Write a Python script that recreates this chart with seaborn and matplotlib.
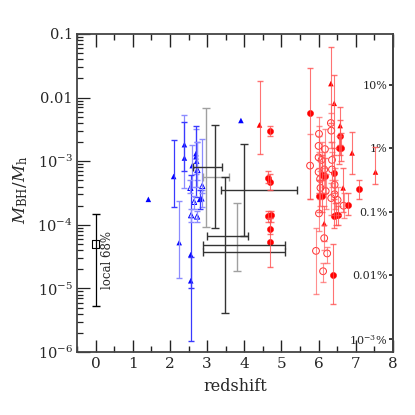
import numpy as np
import matplotlib
matplotlib.use("Agg")
import matplotlib.pyplot as plt
import matplotlib.ticker as mticker
import seaborn as sns

# values; ratios kept as log10(M_BH/M_h)
local_z = [0.0]
local_logr = [-4.30]
local_lo = [-5.28]
local_hi = [-3.83]

# blue triangles, filled
blue_z = [1.42, 2.10, 2.39, 2.39, 2.25, 2.56, 2.56, 2.60, 2.70, 2.70, 2.72, 2.80, 2.86, 3.91]
blue_logr = [-3.60, -3.24, -2.74, -2.95, -4.28, -4.47, -4.88, -3.07, -2.88, -2.93, -3.00, -3.60, -3.59, -2.36]
blue_lo = [np.nan, -3.72, -3.42, -3.15, -4.84, -5.00, -5.83, -3.40, -3.20, -3.56, -3.30, -3.75, -3.72, np.nan]
blue_hi = [np.nan, -2.67, -2.28, -2.38, -3.62, -3.22, -4.50, -2.75, -2.50, -2.44, -2.70, -3.45, -3.45, np.nan]
blue_light = [False, False, True, False, True, False, False, True, True, False, True, False, True, False]

# blue triangles, open
blue_open_z = [2.55, 2.65, 2.57, 2.73, 2.87, 2.74]
blue_open_logr = [-3.42, -3.64, -3.85, -3.87, -3.39, -3.14]
blue_open_lo = [-3.50, -3.75, -3.95, -3.95, -3.50, -3.40]
blue_open_hi = [-3.30, -3.55, -3.75, -3.78, -2.65, -2.70]

# black / grey points with redshift ranges
blk_z = [3.20, 2.98, 3.49, 4.00, 3.80, 4.00, 4.00]
blk_logr = [-3.09, -3.25, -3.45, -4.18, -4.20, -4.32, -4.43]
blk_zlo = [2.63, 2.90, 3.37, 2.99, np.nan, 2.90, 2.90]
blk_zhi = [3.40, 3.59, 5.41, 4.10, np.nan, 5.10, 5.10]
blk_lo = [-4.05, -4.03, -5.39, -4.18, -4.72, np.nan, np.nan]
blk_hi = [-2.43, -2.16, -3.25, -2.73, -3.65, np.nan, np.nan]
blk_grey = [False, True, False, False, True, False, False]

# red triangles
red_tri_z = [4.41, 6.33, 6.42, 6.58, 6.90, 7.53, 6.66, 6.15]
red_tri_logr = [-2.43, -1.78, -2.09, -2.44, -2.87, -3.17, -3.42, -3.98]
red_tri_lo = [-2.88, -2.40, -2.90, -2.75, -3.20, -3.36, -3.80, -4.25]
red_tri_hi = [-1.74, -1.20, -1.65, -2.15, -2.54, -2.78, -3.10, -3.70]

# red filled circles
red_z = [4.70, 4.65, 4.68, 4.65, 4.73, 4.68, 4.69, 5.78, 6.09, 6.17, 6.42, 6.01, 6.09,
         6.58, 6.60, 6.55, 6.42, 6.48, 6.52, 6.79, 7.09, 6.39]
red_logr = [-2.53, -3.26, -3.33, -3.86, -3.84, -4.07, -4.27, -2.25, -3.21, -3.23, -3.19, -3.54, -3.55,
            -2.61, -2.79, -2.80, -3.86, -3.85, -3.84, -3.69, -3.44, -4.79]
red_lo = [-2.60, -3.35, -3.45, -3.95, -3.95, -4.15, -4.67, -3.59, -3.50, -3.50, -3.50, -3.80, -3.80,
          -2.90, -3.00, -3.05, -4.05, -4.00, -4.00, -3.85, -3.60, -5.25]
red_hi = [-2.45, -3.15, -3.20, -3.78, -3.78, -3.90, -3.90, -1.54, -2.90, -2.95, -2.80, -3.30, -3.30,
          -2.35, -2.55, -2.60, -3.60, -3.65, -3.70, -3.50, -3.30, -4.30]

# red open circles
red_open_z = [5.77, 6.33, 6.34, 6.01, 6.00, 6.17, 6.00, 6.08, 6.36, 6.00, 6.15, 6.36, 6.04,
              6.43, 6.05, 6.19, 6.43, 6.34, 6.01, 6.67, 6.51, 5.93, 6.15, 6.12, 6.23]
red_open_logr = [-3.07, -2.40, -2.52, -2.57, -2.76, -2.81, -2.94, -2.98, -2.98, -3.17, -3.13, -3.13, -3.28,
                 -3.37, -3.42, -3.47, -3.52, -3.58, -3.82, -3.70, -3.61, -4.41, -4.21, -4.73, -4.45]
red_open_lo = [-3.59, -2.70, -2.80, -2.85, -3.10, -3.10, -3.30, -3.30, -3.30, -3.50, -3.40, -3.40, -3.60,
               -3.65, -3.70, -3.75, -3.75, -3.85, -4.10, -3.90, -3.85, -5.09, -4.40, -4.90, -4.60]
red_open_hi = [-2.57, -2.10, -2.25, -2.30, -2.45, -2.50, -2.60, -2.70, -2.70, -2.90, -2.85, -2.85, -3.00,
               -3.10, -3.15, -3.20, -3.30, -3.35, -3.50, -3.50, -3.40, -4.05, -4.00, -4.60, -4.35]

pct_ticks = [10, 1, 0.1, 0.01, 0.001]
pct_labels = ["10%", "1%", "0.1%", "0.01%", r"$10^{-3}$%"]
fb = 0.16  # baryon fraction used for the % axis

sns.set_theme(style="ticks")
plt.rcParams['font.family'] = ['DejaVu Serif']
plt.rcParams['mathtext.fontset'] = 'dejavuserif'


def vbars(ax, z, logr, lo, hi, color, **kw):
    # vertical bars between log10 bounds; skip points with no bar
    z = np.asarray(z, dtype=float)
    r = 10 ** np.asarray(logr, dtype=float)
    lo = np.asarray(lo, dtype=float)
    hi = np.asarray(hi, dtype=float)
    ok = ~np.isnan(lo) & ~np.isnan(hi)
    if not ok.any():
        return
    down = r[ok] - 10 ** lo[ok]
    up = 10 ** hi[ok] - r[ok]
    ax.errorbar(z[ok], r[ok], yerr=np.vstack([down, up]), fmt='none', ecolor=color, **kw)


def hbars(ax, z, logr, zlo, zhi, color, **kw):
    z = np.asarray(z, dtype=float)
    r = 10 ** np.asarray(logr, dtype=float)
    zlo = np.asarray(zlo, dtype=float)
    zhi = np.asarray(zhi, dtype=float)
    ok = ~np.isnan(zlo) & ~np.isnan(zhi)
    if not ok.any():
        return
    ax.errorbar(z[ok], r[ok], xerr=np.vstack([z[ok] - zlo[ok], zhi[ok] - z[ok]]),
                fmt='none', ecolor=color, **kw)


fig = plt.figure(figsize=(4.15, 4.15), dpi=100)
ax = fig.add_axes([0.1855, 0.1518, 0.7614, 0.7663])
ax.set_yscale('log')

# local point
vbars(ax, local_z, local_logr, local_lo, local_hi, 'black', elinewidth=0.9, capsize=3)
sns.scatterplot(x=local_z, y=10 ** np.array(local_logr), marker='s', s=30, facecolor='none',
                edgecolor='black', linewidth=0.8, ax=ax)
ax.text(0.32, 10 ** -4.55, "local 68%", rotation=90, fontsize=8.5, ha='center', va='center')

# blue
light = np.array(blue_light)
bz, bl, blo, bhi = (np.array(a) for a in (blue_z, blue_logr, blue_lo, blue_hi))
vbars(ax, bz[light], bl[light], blo[light], bhi[light], '#8c8cff', elinewidth=0.9, capsize=2)
vbars(ax, bz[~light], bl[~light], blo[~light], bhi[~light], '#3a3aff', elinewidth=0.9, capsize=2)
vbars(ax, blue_open_z, blue_open_logr, blue_open_lo, blue_open_hi, '#8c8cff', elinewidth=0.9, capsize=2)
sns.scatterplot(x=blue_z, y=10 ** bl, marker='^', s=16, color='blue', edgecolor='none', linewidth=0, ax=ax)
sns.scatterplot(x=blue_open_z, y=10 ** np.array(blue_open_logr), marker='^', s=14, facecolor='none',
                edgecolor='blue', linewidth=0.7, ax=ax)

# black / grey
grey = np.array(blk_grey)
kz, kl, kzlo, kzhi, klo, khi = (np.array(a) for a in (blk_z, blk_logr, blk_zlo, blk_zhi, blk_lo, blk_hi))
for mask, col in [(grey, '#a0a0a0'), (~grey, '#333333')]:
    vbars(ax, kz[mask], kl[mask], klo[mask], khi[mask], col, elinewidth=1.0, capsize=3)
    hbars(ax, kz[mask], kl[mask], kzlo[mask], kzhi[mask], col, elinewidth=1.0, capsize=3)

# red
vbars(ax, red_tri_z, red_tri_logr, red_tri_lo, red_tri_hi, '#ff5050', elinewidth=0.8, capsize=2, alpha=0.8)
sns.scatterplot(x=red_tri_z, y=10 ** np.array(red_tri_logr), marker='^', s=16, color='red',
                edgecolor='none', linewidth=0, ax=ax)
vbars(ax, red_open_z, red_open_logr, red_open_lo, red_open_hi, '#ff6060', elinewidth=0.8, capsize=2, alpha=0.7)
sns.scatterplot(x=red_open_z, y=10 ** np.array(red_open_logr), marker='o', s=24, facecolor='none',
                edgecolor='#ff3030', linewidth=0.7, ax=ax)
vbars(ax, red_z, red_logr, red_lo, red_hi, '#ff5050', elinewidth=0.8, capsize=2, alpha=0.8)
sns.scatterplot(x=red_z, y=10 ** np.array(red_logr), marker='o', s=20, color='red', edgecolor='red',
                linewidth=0.3, ax=ax)

ax.set_xlim(-0.5, 8)
ax.set_ylim(1e-6, 0.1)
ax.xaxis.set_major_locator(mticker.MultipleLocator(1))
ax.xaxis.set_minor_locator(mticker.MultipleLocator(0.5))
ax.set_yticks([1e-6, 1e-5, 1e-4, 1e-3, 1e-2, 1e-1])
ax.set_yticklabels([r"$10^{-6}$", r"$10^{-5}$", r"$10^{-4}$", r"$10^{-3}$", "0.01", "0.1"])
ax.yaxis.set_minor_locator(mticker.LogLocator(base=10, subs=np.arange(2, 10)))
ax.yaxis.set_minor_formatter(mticker.NullFormatter())
ax.tick_params(axis='x', which='both', direction='in', top=True, bottom=True, labelsize=11, color='#222222', width=1.0)
ax.tick_params(axis='x', which='major', length=9)
ax.tick_params(axis='x', which='minor', length=4.5)
ax.tick_params(axis='y', which='both', direction='in', left=True, right=False, labelsize=10.5,
               color='#222222', width=0.9, pad=3)
ax.tick_params(axis='y', which='major', length=9)
ax.tick_params(axis='y', which='minor', length=4.5)
for s in ax.spines.values():
    s.set_color('#444444')
    s.set_linewidth(1.3)

ax.set_xlabel("redshift", fontsize=11.5, labelpad=5)
ax.set_ylabel(r"$M_{\rm BH}/M_{\rm h}$", fontsize=12)
ax.yaxis.set_label_coords(-0.15, 0.51)

sec = ax.secondary_yaxis('right', functions=(lambda y: y / fb * 100, lambda p: p * fb / 100))
sec.set_yticks(pct_ticks)
sec.set_yticklabels(pct_labels)
sec.yaxis.set_minor_locator(mticker.NullLocator())
sec.tick_params(axis='y', direction='in', length=3, pad=-4, labelsize=8)
for lbl in sec.get_yticklabels():
    lbl.set_horizontalalignment('right')
sec.spines['right'].set_color('#333333')
sec.spines['right'].set_linewidth(1.3)

fig.savefig("out.png", dpi=100)
